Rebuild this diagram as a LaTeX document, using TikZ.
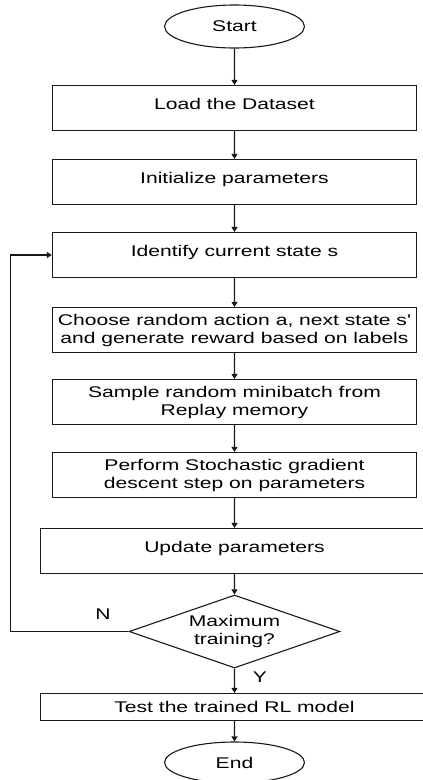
\documentclass[tikz,border=0pt]{standalone}
\usepackage{fontspec}
\setmainfont{Liberation Sans}
\usetikzlibrary{shapes.geometric,arrows.meta}

\begin{document}
\begin{tikzpicture}[x=1pt,y=-1pt,
    font=\fontsize{15.5}{18}\selectfont,
    line width=1.1pt, draw=black!90,
    wide/.style={xscale=1.36},
    box/.style={draw,rectangle,wide,align=center,inner sep=0pt,
      minimum width=267.6pt,minimum height=45pt},
    oneline/.style={text height=11pt,text depth=9pt},
    longbox/.style={box,minimum width=285.3pt},
    term/.style={draw,ellipse,wide,inner sep=0pt,
      minimum width=102.9pt,minimum height=43pt},
    test/.style={draw,diamond,wide,align=center,inner sep=0pt,
      shape aspect=2.2,minimum width=155.1pt,minimum height=73pt},
    flow/.style={-{Triangle[width=6pt,length=5pt]}}]

  % Frame of the page
  \useasboundingbox (0,0) rectangle (423,780);

  % Steps of the flow chart
  \node[term] (start) at (234.5,26.5) {Start};
  \node[box,oneline] (load) at (234.5,108) {Load the Dataset};
  \node[box,oneline] (init) at (234.5,182) {Initialize parameters};
  \node[box,oneline] (ident) at (234.5,255) {Identify current state s};
  \node[box] (choose) at (234.5,330) {Choose random action a, next state s\textquotesingle\\
    and generate reward based on labels};
  \node[box] (sample) at (234.5,402) {Sample random minibatch from\\Replay memory};
  \node[box] (perform) at (234.5,475) {Perform Stochastic gradient\\descent step on parameters};
  \node[longbox,oneline] (update) at (234.5,551) {Update parameters};
  \node[test] (max) at (234.5,631.5) {Maximum\\training?};
  \node[longbox,minimum height=27pt] (trained) at (234.5,707) {Test the trained RL model};
  \node[term,minimum height=41pt] (end) at (234.5,762.5) {End};

  % Labels of the decision
  \node[wide] (no) at (103,614) {N};
  \node[wide] (yes) at (260,677) {Y};

  % Arrows down the chart
  \draw[flow] (start) -- (load);
  \draw[flow] (load) -- (init);
  \draw[flow] (init) -- (ident);
  \draw[flow] (ident) -- (choose);
  \draw[flow] (choose) -- (sample);
  \draw[flow] (sample) -- (perform);
  \draw[flow] (perform) -- (update);
  \draw[flow] (update) -- (max);
  \draw[flow] (max) -- (trained);
  \draw[flow] (trained) -- (end);

  % Loop back for N
  \draw[flow] (max.west) -- (10.5,631.5) |- (ident.west);
\end{tikzpicture}
\end{document}
